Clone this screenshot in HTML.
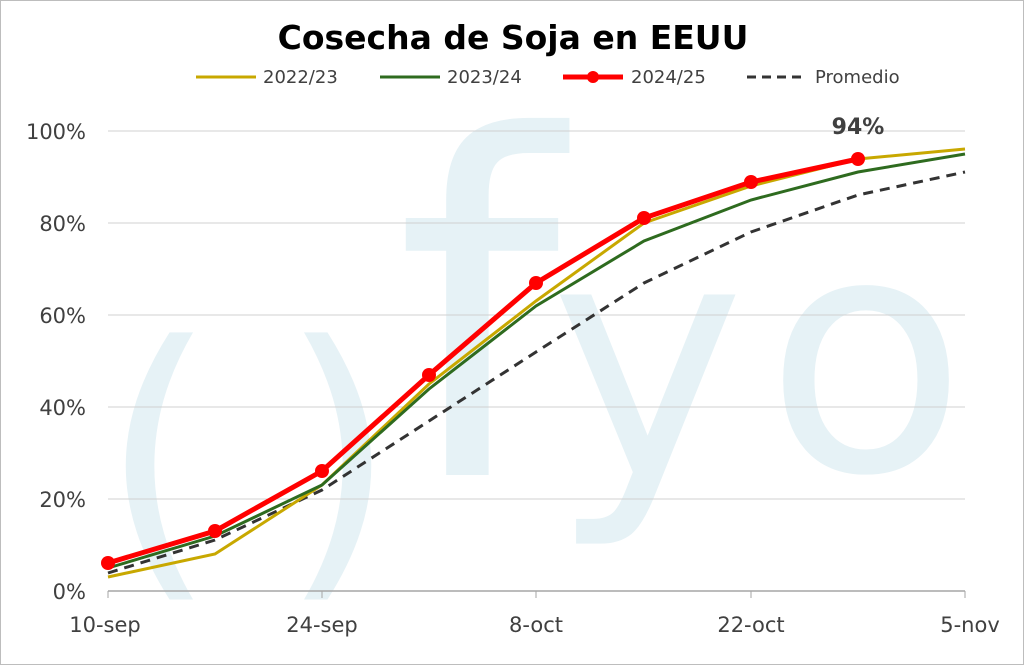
<!DOCTYPE html>
<html><head><meta charset="utf-8"><style>
body{margin:0;background:#fff}
svg{display:block}
text{font-family:"DejaVu Sans","Liberation Sans",sans-serif}
</style></head><body>
<svg width="1024" height="665" viewBox="0 0 1024 665" xmlns="http://www.w3.org/2000/svg">
<rect x="0.5" y="0.5" width="1023" height="664" fill="#fff" stroke="#bdbdbd"/>
<!-- watermark -->
<g fill="#e6f2f6">
<text x="100" y="560" font-size="300" font-family="Liberation Sans">(</text>
<text x="280" y="560" font-size="300" font-family="Liberation Sans">)</text>
<text x="395" y="475" font-size="470" font-family="Liberation Sans">f</text>
<text x="550" y="475" font-size="330" font-family="Liberation Sans">y</text>
<text x="765" y="470" font-size="330" font-family="Liberation Sans">o</text>
</g>
<!-- grid -->
<g stroke="#d0d0d0" stroke-width="1">
<line x1="108" y1="131" x2="965" y2="131"/>
<line x1="108" y1="223" x2="965" y2="223"/>
<line x1="108" y1="315" x2="965" y2="315"/>
<line x1="108" y1="407" x2="965" y2="407"/>
<line x1="108" y1="499" x2="965" y2="499"/>
</g>
<line x1="108" y1="591" x2="965" y2="591" stroke="#a6a6a6" stroke-width="1.5"/>
<g stroke="#a6a6a6"><line x1="108" y1="591" x2="108" y2="598"/><line x1="322" y1="591" x2="322" y2="598"/><line x1="536" y1="591" x2="536" y2="598"/><line x1="751" y1="591" x2="751" y2="598"/><line x1="965" y1="591" x2="965" y2="598"/></g>
<g font-size="21" fill="#404040" text-anchor="end">
<text x="86" y="139">100%</text><text x="86" y="231">80%</text><text x="86" y="323">60%</text><text x="86" y="415">40%</text><text x="86" y="507">20%</text><text x="86" y="599">0%</text>
</g>
<g font-size="21" fill="#404040" text-anchor="middle">
<text x="105" y="632">10-sep</text><text x="322" y="632">24-sep</text><text x="536" y="632">8-oct</text><text x="751" y="632">22-oct</text><text x="970" y="632">5-nov</text>
</g>
<text x="513" y="49" font-size="33" font-weight="bold" text-anchor="middle" fill="#000">Cosecha de Soja en EEUU</text>
<!-- legend -->
<g font-size="18" fill="#404040">
<line x1="196" y1="77" x2="256" y2="77" stroke="#c8a800" stroke-width="3"/><text x="263" y="83">2022/23</text>
<line x1="380" y1="77" x2="440" y2="77" stroke="#2e6b1f" stroke-width="3"/><text x="447" y="83">2023/24</text>
<line x1="563" y1="77" x2="623" y2="77" stroke="#ff0000" stroke-width="5"/><circle cx="593" cy="77" r="6" fill="#ff0000"/><text x="631" y="83">2024/25</text>
<line x1="747" y1="77" x2="807" y2="77" stroke="#333" stroke-width="3" stroke-dasharray="9,6"/><text x="815" y="83">Promedio</text>
</g>
<!-- series -->
<polyline fill="none" stroke="#333" stroke-width="3" stroke-dasharray="10,7" points="108,573 215,540 322,490 429,421 536,352 644,283 751,232 858,195 965,172"/>
<polyline fill="none" stroke="#c8a800" stroke-width="3" points="108,577 215,554 322,485 429,384 536,301 644,223 751,186 858,159 965,149"/>
<polyline fill="none" stroke="#2e6b1f" stroke-width="3" points="108,568 215,536 322,485 429,389 536,306 644,241 751,200 858,172 965,154"/>
<polyline fill="none" stroke="#ff0000" stroke-width="5" points="108,563 215,531 322,471 429,375 536,283 644,218 751,182 858,159"/>
<g fill="#ff0000">
<circle cx="108" cy="563" r="7"/><circle cx="215" cy="531" r="7"/><circle cx="322" cy="471" r="7"/><circle cx="429" cy="375" r="7"/><circle cx="536" cy="283" r="7"/><circle cx="644" cy="218" r="7"/><circle cx="751" cy="182" r="7"/><circle cx="858" cy="159" r="7"/>
</g>
<text x="858" y="134" font-size="22" font-weight="bold" fill="#404040" text-anchor="middle">94%</text>
</svg>
</body></html>
